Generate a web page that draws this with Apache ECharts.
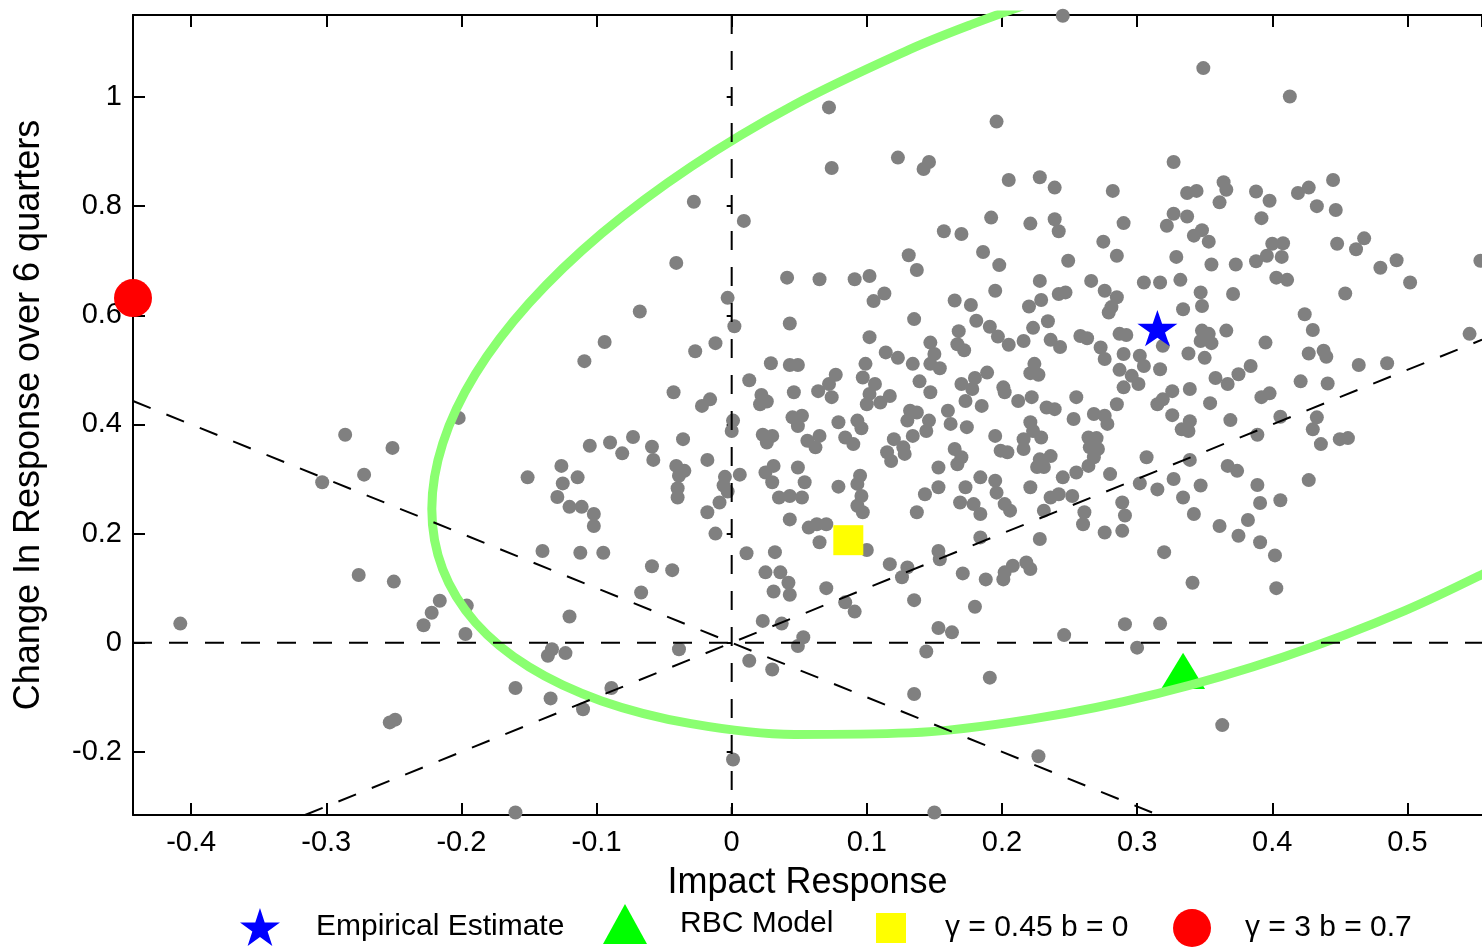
<!DOCTYPE html>
<html>
<head>
<meta charset="utf-8">
<script src="https://cdn.jsdelivr.net/npm/echarts/dist/echarts.min.js"></script>
<style>
  html, body { margin: 0; padding: 0; background: #fff; }
  #chart { width: 1482px; height: 949px; }
</style>
</head>
<body>
<div id="chart"></div>
<script>
// Axis limits
const X_LIMITS = [-0.443, 0.5552];
const Y_LIMITS = [-0.3157, 1.1503];

// Simulated (impact response, change over 6 quarters) draws
const simulatedDraws = [
  [-0.028, 0.808], [0.009, 0.773], [-0.041, 0.696], [0.041, 0.669],
  [0.245, 1.149], [0.072, 0.981], [0.196, 0.955], [0.074, 0.870], [0.123, 0.889], [0.146, 0.881], [0.142, 0.868],
  [0.205, 0.848], [0.228, 0.853], [0.239, 0.834], [0.282, 0.828], [0.192, 0.779], [0.221, 0.768], [0.239, 0.776],
  [0.242, 0.754], [0.290, 0.769], [0.157, 0.754], [0.170, 0.749], [0.275, 0.735], [0.186, 0.716], [0.198, 0.692],
  [0.131, 0.710], [0.137, 0.683], [0.249, 0.700], [0.285, 0.709], [0.065, 0.666], [0.091, 0.666], [0.102, 0.672],
  [0.228, 0.663], [0.266, 0.663], [0.305, 0.660],
  [0.349, 1.053], [0.413, 1.001], [0.327, 0.881], [0.337, 0.824], [0.344, 0.828], [0.364, 0.844], [0.366, 0.830],
  [0.361, 0.807], [0.388, 0.827], [0.398, 0.810], [0.392, 0.778], [0.419, 0.824], [0.427, 0.834], [0.445, 0.848],
  [0.433, 0.800], [0.447, 0.793], [0.327, 0.786], [0.337, 0.781], [0.322, 0.764], [0.342, 0.746], [0.348, 0.756],
  [0.353, 0.735], [0.329, 0.707], [0.355, 0.693], [0.373, 0.693], [0.388, 0.699], [0.396, 0.709], [0.400, 0.731],
  [0.408, 0.732], [0.407, 0.707], [0.448, 0.731], [0.462, 0.721], [0.468, 0.741], [0.480, 0.687], [0.492, 0.701],
  [0.554, 0.700], [0.317, 0.660], [0.332, 0.665], [0.403, 0.669], [0.411, 0.665], [0.502, 0.660],
  [-0.202, 0.412], [-0.286, 0.381], [-0.251, 0.357], [-0.272, 0.308], [-0.303, 0.294],
  [-0.003, 0.632], [-0.068, 0.607], [0.002, 0.580], [0.043, 0.585], [-0.094, 0.551], [-0.109, 0.516], [-0.027, 0.534],
  [-0.012, 0.549], [0.029, 0.512], [0.043, 0.509], [0.049, 0.509], [0.013, 0.481], [-0.043, 0.459], [-0.016, 0.446],
  [-0.022, 0.434], [0.022, 0.454], [0.026, 0.442], [0.021, 0.437], [0.046, 0.459], [0.001, 0.407], [0.000, 0.388],
  [0.045, 0.413], [0.052, 0.416], [0.049, 0.397], [0.023, 0.381], [0.030, 0.379], [0.026, 0.367], [0.056, 0.370],
  [-0.036, 0.373], [-0.073, 0.377], [-0.090, 0.367], [-0.105, 0.361], [-0.081, 0.347], [-0.059, 0.359], [-0.058, 0.335],
  [-0.018, 0.335], [-0.041, 0.324], [-0.035, 0.315], [-0.039, 0.306], [-0.126, 0.324], [-0.151, 0.303], [-0.114, 0.303],
  [-0.125, 0.292], [-0.129, 0.267], [-0.120, 0.249], [-0.111, 0.249], [-0.102, 0.236], [-0.102, 0.214], [-0.040, 0.283],
  [-0.040, 0.266], [-0.005, 0.304], [0.006, 0.308], [-0.006, 0.288], [-0.003, 0.277], [-0.009, 0.257], [-0.018, 0.239],
  [-0.012, 0.200], [0.025, 0.312], [0.031, 0.324], [0.030, 0.294], [0.049, 0.321], [0.054, 0.294], [0.035, 0.266],
  [0.043, 0.269], [0.052, 0.266], [0.043, 0.226], [0.057, 0.211], [-0.140, 0.168], [-0.112, 0.165], [-0.095, 0.165],
  [0.113, 0.640], [0.105, 0.626], [0.165, 0.627], [0.177, 0.619], [0.195, 0.645], [0.220, 0.616], [0.229, 0.628],
  [0.242, 0.639], [0.247, 0.642], [0.276, 0.645], [0.285, 0.633], [0.281, 0.615], [0.279, 0.605],
  [0.135, 0.593], [0.181, 0.590], [0.191, 0.579], [0.197, 0.561], [0.205, 0.546], [0.216, 0.553], [0.223, 0.577],
  [0.234, 0.589], [0.236, 0.555], [0.243, 0.542], [0.258, 0.562], [0.263, 0.558], [0.273, 0.541], [0.276, 0.520],
  [0.287, 0.566], [0.292, 0.564], [0.168, 0.571], [0.167, 0.547], [0.172, 0.536], [0.147, 0.550], [0.150, 0.529],
  [0.102, 0.560], [0.114, 0.532], [0.123, 0.522], [0.290, 0.529], [0.302, 0.526],
  [0.099, 0.511], [0.097, 0.486], [0.106, 0.474], [0.102, 0.456], [0.100, 0.437], [0.117, 0.452], [0.110, 0.440],
  [0.077, 0.491], [0.072, 0.474], [0.064, 0.461], [0.074, 0.450], [0.134, 0.511], [0.147, 0.511], [0.154, 0.503],
  [0.139, 0.479], [0.147, 0.459], [0.170, 0.474], [0.180, 0.485], [0.189, 0.495], [0.178, 0.465], [0.173, 0.443],
  [0.185, 0.434], [0.201, 0.468], [0.202, 0.459], [0.212, 0.443], [0.222, 0.450], [0.224, 0.511], [0.221, 0.494],
  [0.227, 0.491], [0.255, 0.450], [0.233, 0.431], [0.239, 0.428], [0.285, 0.437], [0.287, 0.500], [0.296, 0.489],
  [0.290, 0.468], [0.301, 0.474], [0.305, 0.507],
  [0.079, 0.404], [0.093, 0.407], [0.096, 0.393], [0.065, 0.379], [0.062, 0.358], [0.084, 0.376], [0.090, 0.364],
  [0.132, 0.425], [0.137, 0.422], [0.130, 0.407], [0.146, 0.407], [0.144, 0.388], [0.160, 0.425], [0.162, 0.401],
  [0.174, 0.395], [0.134, 0.379], [0.120, 0.373], [0.115, 0.349], [0.118, 0.333], [0.128, 0.346], [0.127, 0.358],
  [0.195, 0.379], [0.199, 0.352], [0.204, 0.349], [0.221, 0.404], [0.223, 0.388], [0.216, 0.373], [0.229, 0.376],
  [0.216, 0.355], [0.253, 0.410], [0.268, 0.419], [0.276, 0.416], [0.278, 0.401], [0.264, 0.376], [0.270, 0.375],
  [0.265, 0.358], [0.271, 0.355],
  [0.165, 0.355], [0.170, 0.340], [0.167, 0.327], [0.153, 0.321], [0.228, 0.336], [0.236, 0.342], [0.226, 0.322],
  [0.231, 0.322], [0.245, 0.303], [0.255, 0.312], [0.264, 0.324], [0.280, 0.309], [0.268, 0.340], [0.307, 0.340],
  [0.302, 0.292], [0.095, 0.306], [0.093, 0.291], [0.096, 0.269], [0.097, 0.239], [0.093, 0.251], [0.079, 0.286],
  [0.143, 0.272], [0.153, 0.285], [0.137, 0.239], [0.173, 0.285], [0.169, 0.257], [0.179, 0.254], [0.184, 0.236],
  [0.184, 0.303], [0.195, 0.297], [0.196, 0.275], [0.202, 0.254], [0.206, 0.242], [0.221, 0.285], [0.231, 0.242],
  [0.236, 0.266], [0.242, 0.272], [0.252, 0.269], [0.228, 0.190], [0.261, 0.239], [0.260, 0.217], [0.276, 0.202],
  [0.289, 0.257], [0.291, 0.233], [0.289, 0.205], [0.063, 0.217], [0.070, 0.217], [0.065, 0.184], [0.153, 0.168],
  [0.184, 0.193],
  [0.347, 0.642], [0.371, 0.639], [0.454, 0.640], [0.348, 0.617], [0.334, 0.611], [0.424, 0.602], [0.430, 0.573],
  [0.366, 0.572], [0.348, 0.572], [0.353, 0.566], [0.347, 0.553], [0.355, 0.549], [0.395, 0.550], [0.546, 0.566],
  [0.319, 0.544], [0.338, 0.530], [0.350, 0.522], [0.427, 0.530], [0.438, 0.535], [0.440, 0.524], [0.317, 0.501],
  [0.384, 0.507], [0.375, 0.492], [0.358, 0.485], [0.367, 0.474], [0.464, 0.509], [0.485, 0.512], [0.421, 0.479],
  [0.441, 0.475], [0.326, 0.461], [0.339, 0.465], [0.315, 0.437], [0.319, 0.446], [0.392, 0.450], [0.398, 0.457],
  [0.354, 0.439], [0.326, 0.417], [0.333, 0.391], [0.339, 0.406], [0.338, 0.388], [0.369, 0.408], [0.406, 0.414],
  [0.433, 0.413], [0.430, 0.391], [0.436, 0.364], [0.450, 0.373], [0.456, 0.375], [0.389, 0.381], [0.339, 0.335],
  [0.367, 0.324], [0.374, 0.315], [0.327, 0.300], [0.315, 0.281], [0.347, 0.288], [0.389, 0.289], [0.427, 0.298],
  [0.334, 0.266], [0.391, 0.256], [0.406, 0.261], [0.342, 0.236], [0.382, 0.225], [0.361, 0.214], [0.375, 0.196],
  [0.391, 0.184],
  [-0.408, 0.035], [-0.276, 0.124], [-0.250, 0.112], [-0.216, 0.077], [-0.222, 0.055], [-0.228, 0.032], [-0.197, 0.016],
  [-0.196, 0.068], [-0.253, -0.146], [-0.249, -0.141],
  [-0.059, 0.140], [-0.044, 0.133], [-0.067, 0.092], [-0.120, 0.048], [-0.133, -0.012], [-0.136, -0.024], [-0.123, -0.019],
  [-0.039, -0.012], [-0.160, -0.083], [-0.134, -0.102], [-0.110, -0.122], [-0.089, -0.083], [0.001, -0.214], [-0.160, -0.311],
  [0.011, 0.164], [0.032, 0.166], [0.025, 0.129], [0.036, 0.129], [0.042, 0.110], [0.031, 0.094], [0.043, 0.088],
  [0.023, 0.040], [0.037, 0.035], [0.053, 0.010], [0.049, -0.006], [0.013, -0.033], [0.030, -0.049],
  [0.100, 0.170], [0.117, 0.144], [0.130, 0.138], [0.126, 0.120], [0.154, 0.153], [0.171, 0.127], [0.188, 0.116],
  [0.202, 0.129], [0.208, 0.141], [0.218, 0.147], [0.221, 0.135], [0.201, 0.116], [0.070, 0.100], [0.084, 0.074],
  [0.091, 0.057], [0.135, 0.078], [0.180, 0.066], [0.153, 0.027], [0.163, 0.019], [0.144, -0.016], [0.191, -0.064],
  [0.135, -0.094], [0.246, 0.014], [0.291, 0.034], [0.300, -0.009], [0.227, -0.208], [0.150, -0.311],
  [0.320, 0.166], [0.402, 0.160], [0.341, 0.110], [0.403, 0.100], [0.317, 0.035], [0.363, -0.151]
];

// Point estimates
const empiricalEstimate = [0.315, 0.5765];
const rbcModel = [0.334, -0.0517];
const modelGammaLow = [0.0863, 0.1879];   // gamma = 0.45, b = 0
const modelGammaHigh = [-0.443, 0.6315];  // gamma = 3, b = 0.7

// Confidence ellipse around the empirical estimate (points along the boundary)
const ellipseBoundary = [
  [0.4082, 1.2861], [0.3150, 1.2392], [0.2218, 1.1721], [0.1760, 1.1316], [0.1314, 1.0868],
  [0.0465, 0.9859], [-0.0301, 0.8724], [-0.0963, 0.7499], [-0.1500, 0.6219], [-0.1896, 0.4925],
  [-0.2138, 0.3655], [-0.2219, 0.2449], [-0.2138, 0.1342], [-0.1896, 0.0368], [-0.1500, -0.0443],
  [-0.0963, -0.1066], [-0.0301, -0.1483], [0.0465, -0.1680], [0.1314, -0.1652], [0.2218, -0.1401],
  [0.3150, -0.0932], [0.4082, -0.0261], [0.4986, 0.0592], [0.5835, 0.1601]
];

// Reference lines through the origin
const horizontalZero = [[-0.443, 0], [0.5552, 0]];
const verticalZero = [[0, 1.1503], [0, -0.3157]];
const risingDiagonal = [[-0.3157, -0.3157], [0.5552, 0.5552]];
const fallingDiagonal = [[-0.443, 0.443], [0.3157, -0.3157]];

const FONT = '"Liberation Sans", Arial, Helvetica, sans-serif';
const STAR = 'path://M50,0 L61.23,34.55 L97.55,34.55 L68.17,55.9 L79.39,90.45 L50,69.1 L20.61,90.45 L31.83,55.9 L2.45,34.55 L38.77,34.55 Z';
const TRIANGLE = 'path://M0,40 L22,0 L44,40 Z';
const SQUARE = 'path://M0,0 L10,0 L10,10 L0,10 Z';

const frameLine = { show: true, onZero: false, lineStyle: { color: '#000', width: 2 } };
const frameTick = { show: true, inside: true, length: 12, lineStyle: { color: '#000', width: 2 } };

function dashed(name, data) {
  return {
    name, type: 'line', data, symbol: 'none', silent: true, z: 5,
    lineStyle: { color: '#000', width: 2, type: [19, 17] }
  };
}

function marker(name, point, symbol, size, color, extra) {
  return Object.assign({
    name, type: 'scatter', data: [point], symbol, symbolSize: size, symbolKeepAspect: true,
    itemStyle: { color, opacity: 1 }, silent: true, z: 3
  }, extra || {});
}

// Each legend entry is placed on its own; "left" is the left edge of the icon
function legendBox(name, left, top, w, h) {
  return {
    data: [name], left, top, itemWidth: w, itemHeight: h, padding: 0,
    selectedMode: false,
    textStyle: { fontFamily: FONT, fontSize: 30, color: '#000' }
  };
}

const chart = echarts.init(document.getElementById('chart'), null, { renderer: 'canvas' });
chart.setOption({
  animation: false,
  backgroundColor: '#fff',
  grid: { left: 133, top: 15, width: 1349, height: 800, containLabel: false },
  xAxis: [
    {
      type: 'value', position: 'bottom', min: X_LIMITS[0], max: X_LIMITS[1], splitNumber: 10,
      axisLine: frameLine, axisTick: frameTick, splitLine: { show: false },
      axisLabel: { margin: 13, fontFamily: FONT, fontSize: 29, color: '#000', showMinLabel: false, showMaxLabel: false },
      name: 'Impact Response', nameLocation: 'middle', nameGap: 50,
      nameTextStyle: { fontFamily: FONT, fontSize: 36, color: '#000' }
    },
    {
      type: 'value', position: 'top', min: X_LIMITS[0], max: X_LIMITS[1], splitNumber: 10,
      axisLine: frameLine, axisTick: frameTick, splitLine: { show: false }, axisLabel: { show: false }
    }
  ],
  yAxis: [
    {
      type: 'value', position: 'left', min: Y_LIMITS[0], max: Y_LIMITS[1], splitNumber: 7,
      axisLine: frameLine, axisTick: frameTick, splitLine: { show: false },
      axisLabel: { margin: 11, fontFamily: FONT, fontSize: 29, color: '#000', showMinLabel: false, showMaxLabel: false },
      name: 'Change In Response over 6 quarters', nameLocation: 'middle', nameGap: 86,
      nameTextStyle: { fontFamily: FONT, fontSize: 36, color: '#000' }
    },
    {
      type: 'value', position: 'right', min: Y_LIMITS[0], max: Y_LIMITS[1], splitNumber: 7,
      axisLine: { show: false },
      axisTick: { show: true, inside: true, length: 5, lineStyle: { color: '#000', width: 2 } },
      splitLine: { show: false }, axisLabel: { show: false }
    }
  ],
  legend: [
    legendBox('Empirical Estimate', 240, 908, 102, 38),
    legendBox('RBC Model', 603, 904, 100, 40),
    legendBox('γ = 0.45 b = 0', 876, 913, 98, 30),
    legendBox('γ = 3 b = 0.7', 1173, 909, 96, 38)
  ],
  series: [
    {
      name: 'draws', type: 'scatter', data: simulatedDraws, symbol: 'circle', symbolSize: 14,
      itemStyle: { color: '#808080', opacity: 1 }, silent: true, z: 2
    },
    marker('Empirical Estimate', empiricalEstimate, STAR, [40, 38], '#0000ff'),
    marker('RBC Model', rbcModel, TRIANGLE, [44, 40], '#00ff00'),
    marker('γ = 0.45 b = 0', modelGammaLow, SQUARE, 30, '#ffff00'),
    marker('γ = 3 b = 0.7', modelGammaHigh, 'circle', 38, '#ff0000', { clip: false, z: 6 }),
    {
      name: 'region', type: 'line', data: ellipseBoundary, symbol: 'none', smooth: 0.35,
      lineStyle: { color: '#8aff70', width: 9 }, silent: true, z: 4
    },
    dashed('zeroH', horizontalZero),
    dashed('zeroV', verticalZero),
    dashed('rising', risingDiagonal),
    dashed('falling', fallingDiagonal)
  ]
});
</script>
</body>
</html>
